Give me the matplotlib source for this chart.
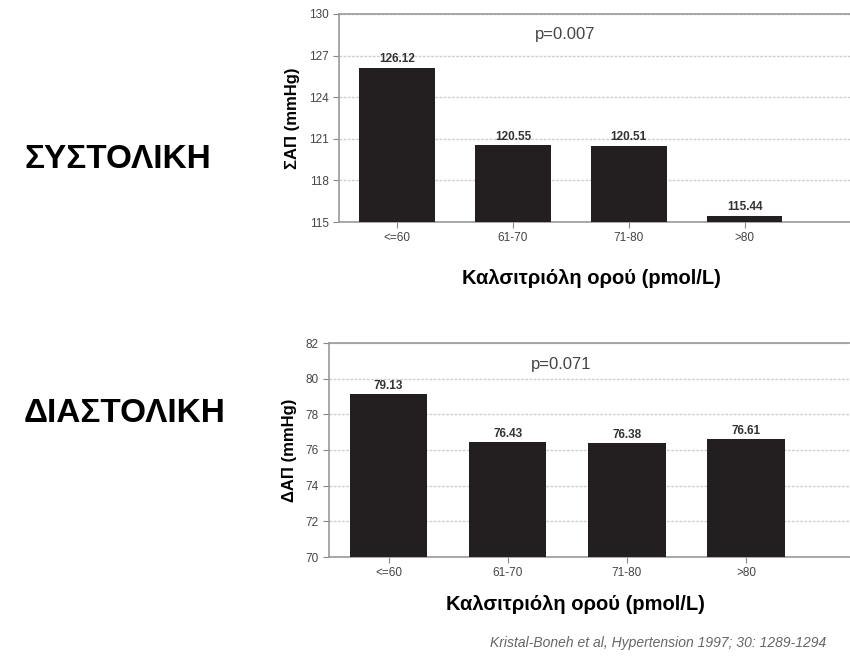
import matplotlib.pyplot as plt

plt.rcParams['font.family'] = ['Liberation Sans', 'DejaVu Sans']

categories = ["<=60", "61-70", "71-80", ">80"]
sys_values = [126.12, 120.55, 120.51, 115.44]
dia_values = [79.13, 76.43, 76.38, 76.61]
sys_p = "p=0.007"
dia_p = "p=0.071"

W, H = 850, 656
fig = plt.figure(figsize=(W / 100, H / 100), dpi=100)
grid_c = '#cfcfcf'
tick_c = '#444444'


def px(l, t, r, b):
    return [l / W, 1 - b / H, (r - l) / W, (b - t) / H]


def panel(rect, values, ylo, yhi, step, xmax, ylabel, ptext, rowlabel, label_y):
    ax = fig.add_axes(rect)
    x = range(len(values))
    bars = ax.bar(x, [v - ylo for v in values], bottom=ylo, width=0.65,
                  color='#231f20', zorder=3)
    ax.set_xlim(-0.5, xmax)
    ax.set_ylim(ylo, yhi)
    ax.set_yticks(range(ylo, yhi + 1, step))
    ax.set_xticks(list(x))
    ax.set_xticklabels(categories)
    ax.tick_params(axis='both', labelsize=8.5, colors='#888888',
                   labelcolor=tick_c, length=4, width=0.8)
    ax.grid(axis='y', color=grid_c, linestyle=(0, (2, 1)), lw=1.0, zorder=0)
    for s in ax.spines.values():
        s.set_color('#999999')
        s.set_linewidth(1.2)
    for b, v in zip(bars, values):
        ax.text(b.get_x() + b.get_width() / 2, v + (yhi - ylo) * 0.012,
                f"{v:.2f}", ha='center', va='bottom', fontsize=8.5,
                fontweight='bold', color='#333333')
    ax.text(1.45, ylo + (yhi - ylo) * 0.9, ptext, ha='center', va='center',
            fontsize=12, color='#444444')
    ax.set_ylabel(ylabel, fontsize=12, fontweight='bold', labelpad=6)
    fig.text(24 / W, 1 - label_y / H, rowlabel, fontsize=24, fontweight='bold',
             ha='left', va='center')
    return ax


panel(px(339, 14, 870, 222), sys_values, 115, 130, 3, 4.08,
      "ΣΑΠ (mmHg)", sys_p, "ΣΥΣΤΟΛΙΚΗ", 160)
fig.text(591 / W, 1 - 278 / H, "Καλσιτριόλη ορού (pmol/L)", fontsize=14.5,
         fontweight='bold', ha='center', va='center')

panel(px(329, 343, 870, 557), dia_values, 70, 82, 2, 4.04,
      "ΔΑΠ (mmHg)", dia_p, "ΔΙΑΣΤΟΛΙΚΗ", 413)
fig.text(575 / W, 1 - 605 / H, "Καλσιτριόλη ορού (pmol/L)", fontsize=14.5,
         fontweight='bold', ha='center', va='center')

fig.text(490 / W, 1 - 643 / H,
         "Kristal-Boneh et al, Hypertension 1997; 30: 1289-1294",
         fontsize=10, style='italic', color='#666666', ha='left', va='center')

plt.savefig('out.png', dpi=100)
